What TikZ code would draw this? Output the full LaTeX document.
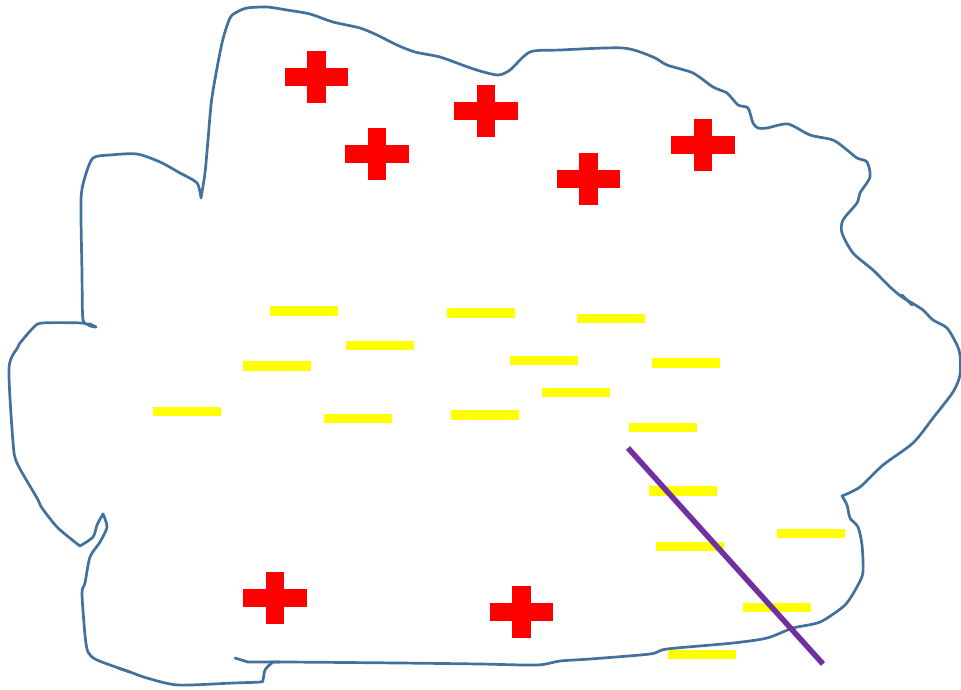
\documentclass[tikz,border=0pt]{standalone}
\definecolor{outlinecol}{HTML}{41719C}
\definecolor{crossred}{HTML}{FF0000}
\definecolor{baryellow}{HTML}{FFFF00}
\definecolor{slashpurple}{HTML}{7030A0}
\tikzset{
  outline/.style={draw=outlinecol, line width=2.7pt, line join=round, line cap=round},
  crossfill/.style={fill=crossred},
  barfill/.style={fill=baryellow},
  slash/.style={draw=slashpurple, line width=5.5pt},
  smoothcurve/.style={smooth, tension=0.45}
}
\begin{document}
\begin{tikzpicture}[x=1pt,y=-1pt]
\useasboundingbox (0,0) rectangle (961,689);
% outline
\draw[outline]
  plot[smoothcurve] coordinates {(201,198) (205,173) (208,140) (212,97) (222,43) (230,18) (237,12) (247,8) (267,7) (287,10) (310,14) (333,22) (360,28) (377,35) (397,45) (415,52) (440,57) (465,66) (480,71) (498,75) (510,70) (530,52) (560,50) (623,48) (653,57) (667,65) (693,73) (713,87) (727,93) (738,105) (748,108) (753,123) (758,128) (767,128) (788,124) (810,135) (833,140) (847,150) (857,158) (867,162) (870,177) (860,193) (857,203) (843,220) (842,233) (853,253) (873,270) (890,287) (902,297) (912,303) (923,310) (933,320) (947,328) (957,345) (960,355) (960,375) (953,392) (933,418) (913,443) (883,465) (860,487) (842,496)}
  -- plot[smoothcurve] coordinates {(842,496) (847,505) (850,518) (858,527) (862,545) (863,572) (858,585) (845,605) (820,622) (793,628) (767,638) (733,643) (667,649) (650,654) (590,659) (560,661) (537,665) (480,664) (400,663) (280,662) (272,663) (265,670) (263,680) (260,682) (233,683) (178,685) (147,678) (130,672) (97,660) (88,652) (85,635) (82,593) (85,583) (90,557) (100,542) (107,527) (103,514)}
  -- plot[smoothcurve] coordinates {(103,514) (97,525) (93,537) (80,546)}
  -- plot[smoothcurve] coordinates {(80,546) (58,528) (42,508) (37,498) (17,463) (13,442) (9,368) (18,347) (20,343) (33,328) (42,323) (82,323) (90,326) (96,327) (90,324) (83,320) (82,273) (81,200) (85,177) (93,158) (110,155) (137,154) (160,162) (180,173) (197,183) (201,198)};
\draw[outline] (235,658) -- (248,662) -- (280,662);
\draw[outline] (118,668) -- (130,672);
\draw[outline] (902,295) -- (912,305);
% red crosses
\foreach \cx/\cy in {316.5/77, 377/154, 486/111, 588.5/179, 703/145, 275/598, 521.5/612}{
  \fill[crossfill] (\cx-31.75,\cy-9.25) rectangle (\cx+31.75,\cy+9.25);
  \fill[crossfill] (\cx-9.25,\cy-26) rectangle (\cx+9.25,\cy+26);
}
% yellow bars
\foreach \cx/\cy in {304/311, 481/313, 611/318.5, 379.5/345.5, 276.5/366, 544/360.5, 686/363, 576/392.5, 187/411.5, 358/418.5, 485/415, 662.5/427.5, 683/491, 690/546.5, 811/533.5, 777/607.5, 702/654.5}{
  \fill[barfill] (\cx-34,\cy-4.75) rectangle (\cx+34,\cy+4.75);
}
% purple line
\draw[slash] (628,448) -- (823,664);
\end{tikzpicture}
\end{document}
